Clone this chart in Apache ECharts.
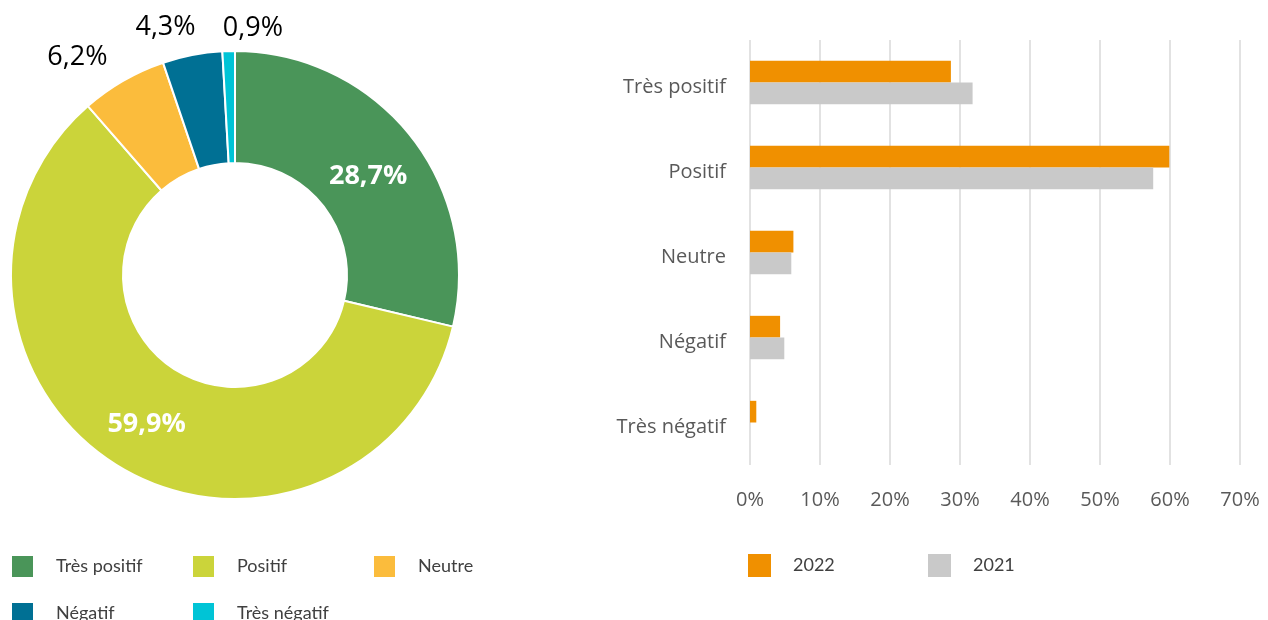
<!DOCTYPE html>
<html>
<head>
<meta charset="utf-8">
<script src="https://cdn.jsdelivr.net/npm/echarts@6/dist/echarts.min.js"></script>
<style>
html, body { margin: 0; padding: 0; background: #fff; }
#chart { width: 1268px; height: 620px; }
</style>
</head>
<body>
<div id="chart"></div>
<script>
// donnees
var categories = ['Très positif', 'Positif', 'Neutre', 'Négatif', 'Très négatif'];
var share2022 = [28.7, 59.9, 6.2, 4.3, 0.9];
var share2021 = [31.8, 57.6, 5.9, 4.9, 0];
var yearNames = ['2022', '2021'];
var xTicks = [0, 10, 20, 30, 40, 50, 60, 70];

var sliceColors = ['#4a9559', '#cbd43a', '#fbbc3c', '#007094', '#00c4d6'];
var yearColors = ['#f09000', '#c9c9c9'];

function pct(v) {
    return String(v).replace('.', ',') + '%';
}

var pieData = [];
for (var i = 0; i < categories.length; i++) {
    var item = {
        name: categories[i],
        value: share2022[i],
        itemStyle: { color: sliceColors[i] }
    };
    if (i < 2) {
        item.label = { position: 'inside', color: '#fff', fontWeight: 'bold' };
    }
    pieData.push(item);
}

// petits decalages des etiquettes du camembert
var labelShift = [[-1, 7], [0, 3], [4, 3], [14, 2], [0, 7]];

var legendText = {
    fontFamily: 'Lato',
    fontSize: 18,
    lineHeight: 23,
    color: '#404040',
    width: 113,
    padding: [0, 0, 0, 17]
};

var myChart = echarts.init(document.getElementById('chart'));
var option = {
    animation: false,
    legend: [{
        left: 10,
        top: 554,
        width: 540,
        padding: 0,
        icon: 'rect',
        itemWidth: 23,
        itemHeight: 23,
        itemGap: 22,
        data: categories,
        textStyle: legendText
    }, {
        left: 748,
        top: 554,
        width: 400,
        padding: 0,
        icon: 'rect',
        itemWidth: 23,
        itemHeight: 23,
        itemGap: 22,
        data: yearNames,
        textStyle: legendText
    }],
    grid: {
        left: 750,
        right: 28,
        top: 40,
        bottom: 155,
        outerBoundsMode: 'none'
    },
    xAxis: {
        type: 'value',
        min: xTicks[0],
        max: xTicks[xTicks.length - 1],
        interval: xTicks[1] - xTicks[0],
        axisLine: { show: false },
        axisTick: { show: false },
        axisLabel: {
            formatter: '{value}%',
            fontFamily: 'Open Sans',
            fontSize: 20,
            color: '#595959',
            margin: 25
        },
        splitLine: { lineStyle: { color: '#d9d9d9', width: 1.5 } }
    },
    yAxis: {
        type: 'category',
        data: categories,
        inverse: true,
        axisLine: { show: false },
        axisTick: { show: false },
        axisLabel: {
            margin: 24,
            formatter: '{c|{value}}',
            rich: {
                c: {
                    fontFamily: 'Open Sans',
                    fontSize: 20,
                    color: '#595959',
                    padding: [10, 0, 0, 0]
                }
            }
        }
    },
    series: [{
        name: 'repartition',
        type: 'pie',
        center: [235, 275],
        radius: [112, 224],
        startAngle: 90,
        clockwise: true,
        avoidLabelOverlap: false,
        minShowLabelAngle: 0,
        itemStyle: { borderColor: '#fff', borderWidth: 2 },
        label: {
            position: 'outside',
            fontFamily: 'Open Sans',
            fontSize: 27,
            color: '#000',
            formatter: function (p) { return pct(p.value); }
        },
        labelLine: { show: false, length: 30, length2: 0 },
        labelLayout: function (p) {
            var s = labelShift[p.dataIndex];
            var out = { dx: s[0], dy: s[1] };
            if (p.dataIndex == 4) out.align = 'left';
            return out;
        },
        data: pieData
    }, {
        name: yearNames[0],
        type: 'bar',
        data: share2022,
        itemStyle: { color: yearColors[0] },
        barGap: '0%',
        barCategoryGap: '49%'
    }, {
        name: yearNames[1],
        type: 'bar',
        data: share2021,
        itemStyle: { color: yearColors[1] },
        barGap: '0%',
        barCategoryGap: '49%'
    }]
};
myChart.setOption(option);
</script>
</body>
</html>
